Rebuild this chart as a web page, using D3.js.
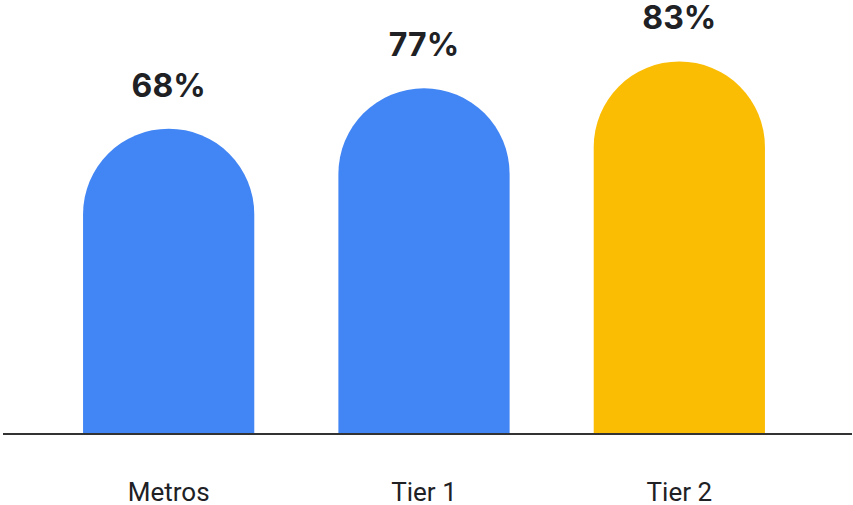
<!DOCTYPE html>
<html>
<head>
<meta charset="utf-8">
<script src="https://cdn.jsdelivr.net/npm/d3@7"></script>
<style>
html,body{margin:0;padding:0;background:#fff;}
svg{display:block;}
</style>
</head>
<body>
<svg id="chart" width="853" height="505"></svg>
<script>
const categories = ["Metros", "Tier 1", "Tier 2"];
const values = [68, 77, 83];
const valueLabels = ["68%", "77%", "83%"];
const colors = ["#4285F4", "#4285F4", "#FBBC04"];

const svg = d3.select("#chart");
const baseY = 434;

const x = d3.scaleBand().domain(categories).range([41, 807])
  .paddingInner(0.3294).paddingOuter(0.1647);
const y = d3.scaleLinear().domain([0, 100]).range([baseY, -15]);

const w = x.bandwidth();
const r = w / 2;

function barPath(c, v) {
  const x0 = x(c), top = y(v);
  return `M${x0},${baseY} L${x0},${top + r} A${r},${r} 0 0 1 ${x0 + w},${top + r} L${x0 + w},${baseY} Z`;
}

svg.selectAll("path.bar").data(categories).join("path")
  .attr("class", "bar")
  .attr("d", (c, i) => barPath(c, values[i]))
  .attr("fill", (c, i) => colors[i]);

svg.selectAll("text.val").data(categories).join("text")
  .attr("class", "val")
  .attr("x", c => x(c) + w / 2)
  .attr("y", (c, i) => y(values[i]) - 32)
  .attr("text-anchor", "middle")
  .attr("font-family", "Inter, Roboto, sans-serif")
  .attr("font-weight", 700)
  .attr("font-size", 32)
  .attr("fill", "#202124")
  .text((c, i) => valueLabels[i]);

const axis = d3.axisBottom(x).tickSize(0).tickPadding(0);
const g = svg.append("g").attr("transform", `translate(0,${baseY})`).call(axis);
g.select(".domain").remove();
g.append("line").attr("x1", 3).attr("x2", 852).attr("y1", 0).attr("y2", 0)
  .attr("stroke", "#333").attr("stroke-width", 2);
g.selectAll(".tick text")
  .attr("y", 67).attr("dy", 0)
  .attr("font-family", "Roboto, sans-serif")
  .attr("font-size", 26)
  .attr("fill", "#202124");
</script>
</body>
</html>
